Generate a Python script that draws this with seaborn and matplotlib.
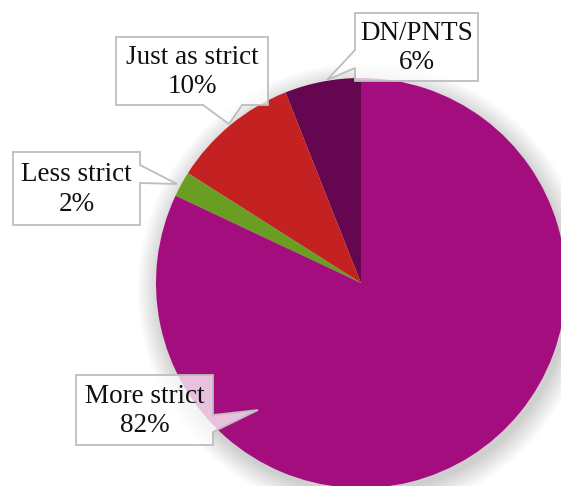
import matplotlib
matplotlib.use("Agg")
import matplotlib.pyplot as plt
import seaborn as sns
from matplotlib.patches import Polygon, Circle

sns.set_theme(style="white")
plt.rcParams['font.family'] = ['Liberation Serif', 'DejaVu Serif']

# Data (counter-clockwise from 12 o'clock)
categories = ["DN/PNTS", "Just as strict", "Less strict", "More strict"]
percents = [6, 10, 2, 82]
colors = ["#640650", "#C42222", "#6A9E22", "#A30D7D"]

W, H = 561, 486
fig = plt.figure(figsize=(W / 100, H / 100), dpi=100)
fig.patch.set_facecolor("white")

# pie geometry in pixels
cx, cy, R = 361, 283, 205
ax = fig.add_axes([(cx - R) / W, (H - cy - R) / H, 2 * R / W, 2 * R / H])

# soft shadow
for i in range(16):
    ax.add_patch(Circle((0.015, -0.03), 1.0 + 0.007 * i, color="black",
                        alpha=0.013, lw=0, zorder=0, clip_on=False))

wedges, _ = ax.pie(percents, colors=colors, startangle=90, counterclock=True,
                   radius=1.0, wedgeprops=dict(linewidth=0), frame=False)
for w in wedges:
    w.set_clip_on(False)
ax.set_xlim(-1, 1)
ax.set_ylim(-1, 1)
ax.set_aspect("auto")
ax.axis("off")

# overlay axes in pixel coordinates for callouts
ov = fig.add_axes([0, 0, 1, 1])
ov.set_xlim(0, W)
ov.set_ylim(H, 0)
ov.axis("off")
ov.patch.set_alpha(0)

# callout layout: box, side, wedge base (a, b), tip
layout = {
    "DN/PNTS": ((355, 13, 478, 81), "left", (50, 68), (327, 80)),
    "Just as strict": ((116, 37, 268, 105), "bottom", (203, 242), (229, 124)),
    "Less strict": ((13, 152, 140, 225), "right", (165, 183), (177, 184)),
    "More strict": ((76, 375, 213, 445), "right", (415, 432), (258, 410)),
}


def callout(box, side, base, tip):
    x0, y0, x1, y1 = box
    a, b = base
    pts = [(x0, y0), (x1, y0)]
    if side == "right":
        pts += [(x1, a), tip, (x1, b)]
    pts.append((x1, y1))
    if side == "bottom":
        pts += [(b, y1), tip, (a, y1)]
    pts.append((x0, y1))
    if side == "left":
        pts += [(x0, b), tip, (x0, a)]
    return pts


for cat, pct in zip(categories, percents):
    box, side, base, tip = layout[cat]
    poly = Polygon(callout(box, side, base, tip), closed=True,
                   facecolor=(1, 1, 1, 0.75), edgecolor="#BDBDBD",
                   linewidth=1.3, joinstyle="miter", zorder=3)
    ov.add_patch(poly)
    x0, y0, x1, y1 = box
    ov.text((x0 + x1) / 2, (y0 + y1) / 2 + 1, f"{cat}\n{pct}%",
            ha="center", va="center", fontsize=19.5, color="#111111",
            linespacing=1.22, zorder=4)

fig.savefig("out.png", dpi=100, facecolor="white")
